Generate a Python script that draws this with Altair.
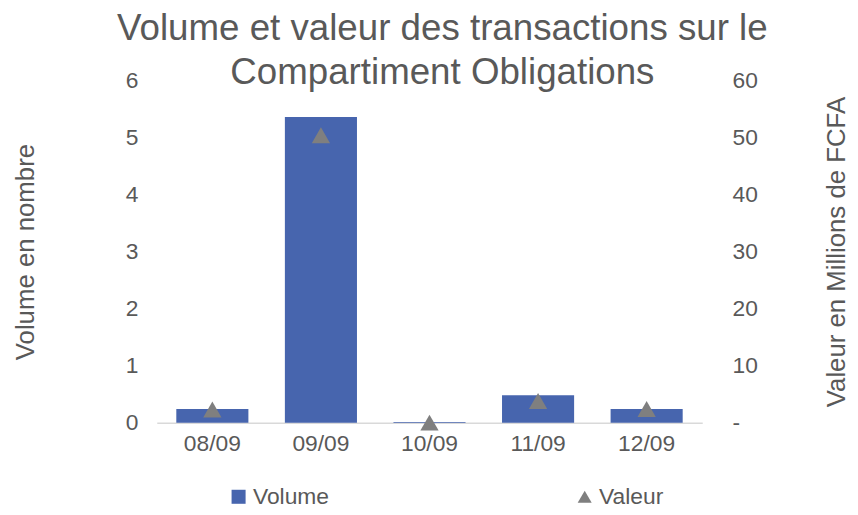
import altair as alt
import pandas as pd

dates = ["08/09", "09/09", "10/09", "11/09", "12/09"]
volume = [0.24, 5.36, 0.01, 0.48, 0.24]
valeur = [2.3, 50.4, 0.0, 3.8, 2.4]

df = pd.DataFrame({"date": dates, "volume": volume, "valeur": valeur})

FONT = "Liberation Sans"
GREY = "#595959"

x_enc = alt.X(
    "date:N",
    sort=dates,
    scale=alt.Scale(paddingInner=0.336, paddingOuter=0.18),
    axis=alt.Axis(
        title=None, labelAngle=0, ticks=False, domainColor="#D9D9D9", domainWidth=1.5,
        labelPadding=10, labelFontSize=23, labelColor=GREY, labelFont=FONT,
    ),
)

series_domain = ["Volume", "Valeur"]
color_scale = alt.Scale(domain=series_domain, range=["#4765AE", "#7F7F7F"])

bars = alt.Chart(df).transform_calculate(series="'Volume'").mark_bar(color="#4765AE").encode(
    x=x_enc,
    y=alt.Y(
        "volume:Q",
        scale=alt.Scale(domain=[0, 6], nice=False),
        axis=alt.Axis(
            title="Volume en nombre", values=[0, 1, 2, 3, 4, 5, 6], grid=False, domain=False,
            ticks=False, labelPadding=19, titlePadding=87, labelFontSize=23, titleFontSize=26,
            labelColor=GREY, titleColor=GREY, labelFont=FONT, titleFont=FONT,
            titleFontWeight="normal",
        ),
    ),
    color=alt.Color("series:N", scale=color_scale, title=None),
)

points = alt.Chart(df).transform_calculate(series="'Valeur'").mark_point(filled=True, opacity=1, size=340).encode(
    x=x_enc,
    y=alt.Y(
        "valeur:Q",
        scale=alt.Scale(domain=[0, 60], nice=False),
        axis=alt.Axis(
            orient="right", title="Valeur en Millions de FCFA", values=[0, 10, 20, 30, 40, 50, 60],
            labelExpr="datum.value === 0 ? '-' : datum.label",
            grid=False, domain=False, ticks=False, labelPadding=30, titlePadding=93,
            labelFontSize=23, titleFontSize=26, labelColor=GREY, titleColor=GREY,
            labelFont=FONT, titleFont=FONT, titleFontWeight="normal", titleAngle=270,
        ),
    ),
    color=alt.Color("series:N", scale=color_scale, title=None),
    shape=alt.Shape("series:N", scale=alt.Scale(domain=series_domain, range=["square", "triangle-up"]), title=None),
)

chart = alt.layer(bars, points).resolve_scale(y="independent").properties(
    width=550,
    height=345,
    padding={"left": 5, "top": 0, "right": 0, "bottom": 0},
    title=alt.TitleParams(
        text=["Volume et valeur des transactions sur le", "Compartiment Obligations"],
        fontSize=37, font=FONT, fontWeight="normal", color=GREY, lineHeight=45,
        offset=-23, dx=13, anchor="middle",
    ),
).configure_view(stroke=None).configure_legend(
    orient="none", legendX=71, legendY=408, direction="horizontal", columnPadding=246,
    labelFontSize=23, labelColor=GREY, labelFont=FONT, symbolSize=200, labelOffset=3,
    symbolStrokeWidth=0,
)

chart.save("out.html", embed_options={"renderer": "svg", "actions": False})
